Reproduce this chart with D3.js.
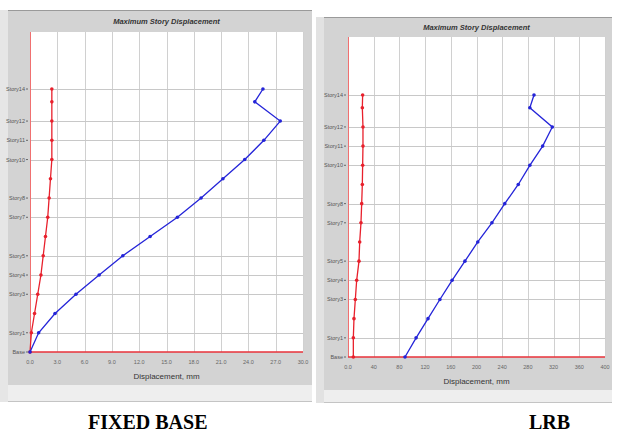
<!DOCTYPE html>
<html>
<head>
<meta charset="utf-8">
<script src="https://cdn.jsdelivr.net/npm/d3@7"></script>
<style>
  body { margin: 0; background: #fff; }
  svg { display: block; }
</style>
</head>
<body>
<div id="chart"></div>
<script>
// story levels (elevation in m, top storey shorter)
var stories = ["Base", "Story1", "Story2", "Story3", "Story4", "Story5", "Story6", "Story7",
               "Story8", "Story9", "Story10", "Story11", "Story12", "Story13", "Story14"];
var elevations = [0, 3, 6, 9, 12, 15, 18, 21, 24, 27, 30, 33, 36, 39, 41];
// only these get a label + gridline in the ETABS plot
var labeledStories = ["Base", "Story1", "Story3", "Story4", "Story5", "Story7", "Story8",
                      "Story10", "Story11", "Story12", "Story14"];

// FIXED BASE, displacement mm
var fixedRed  = [0, 0.15, 0.5, 0.85, 1.2, 1.45, 1.7, 1.95, 2.1, 2.25, 2.4, 2.4, 2.4, 2.4, 2.4];
var fixedBlue = [0, 0.95, 2.75, 5.05, 7.6, 10.2, 13.2, 16.2, 18.8, 21.2, 23.6, 25.7, 27.5, 24.7, 25.6];
var fixedTicks = [0, 3, 6, 9, 12, 15, 18, 21, 24, 27, 30];
var fixedTickLabels = ["0.0", "3.0", "6.0", "9.0", "12.0", "15.0", "18.0", "21.0", "24.0", "27.0", "30.0"];

// LRB, displacement mm
var lrbRed  = [8.3, 8.3, 9.3, 11.4, 13.5, 17.1, 18.2, 20.2, 21.3, 22.3, 22.8, 23.3, 23.3, 22.3, 22.8];
var lrbBlue = [88.7, 106, 124.5, 143, 162, 182, 202, 224, 244, 265, 283, 303, 318, 283, 289.5];
var lrbTicks = [0, 40, 80, 120, 160, 200, 240, 280, 320, 360, 400];
var lrbTickLabels = ["0.0", "40", "80", "120", "160", "200", "240", "280", "320", "360", "400"];

var W = 617, H = 437;

var svg = d3.select("#chart").append("svg")
    .attr("width", W)
    .attr("height", H);

/**
 *   panel()    one ETABS style window with the story displacement plot
 */
function panel(p)
{
    var g = svg.append("g");

    // window body
    g.append("rect")
        .attr("x", p.win[0]).attr("y", p.win[1])
        .attr("width", p.win[2] - p.win[0]).attr("height", p.win[3] - p.win[1])
        .style("fill", "#d3d3d3");
    g.append("line")
        .attr("x1", p.win[0]).attr("x2", p.win[2])
        .attr("y1", p.win[1] + 0.5).attr("y2", p.win[1] + 0.5)
        .style("stroke", "#9a9a9a");

    // status strip under the window
    g.append("rect")
        .attr("x", p.win[0]).attr("y", p.win[3])
        .attr("width", p.win[2] - p.win[0]).attr("height", p.statusH)
        .style("fill", "#eeeeee");
    g.append("line")
        .attr("x1", p.win[0]).attr("x2", p.win[2])
        .attr("y1", p.win[3] + p.statusH - 0.5).attr("y2", p.win[3] + p.statusH - 0.5)
        .style("stroke", "#c4c4c4");

    var x = d3.scaleLinear()
        .domain([p.ticks[0], p.ticks[p.ticks.length - 1]])
        .range([p.plot[0], p.plot[2]]);
    var y = d3.scaleLinear()
        .domain([0, 41])
        .range([p.base, p.top]);

    // white plot area
    g.append("rect")
        .attr("x", p.plot[0]).attr("y", p.plot[1])
        .attr("width", p.plot[2] - p.plot[0]).attr("height", p.base - p.plot[1])
        .style("fill", "#fff");

    // vertical grid
    g.selectAll(".vgrid")
        .data(p.ticks.slice(1))
      .enter().append("line")
        .attr("class", "vgrid")
        .attr("x1", function(d) { return Math.round(x(d)) + 0.5; })
        .attr("x2", function(d) { return Math.round(x(d)) + 0.5; })
        .attr("y1", p.plot[1]).attr("y2", p.base)
        .style("stroke", "#d0d0d0");

    // horizontal grid at labelled stories
    var labeled = stories.map(function(s, i) { return { name: s, elev: elevations[i] }; })
        .filter(function(d) { return labeledStories.indexOf(d.name) >= 0; });

    g.selectAll(".hgrid")
        .data(labeled.filter(function(d) { return d.elev > 0; }))
      .enter().append("line")
        .attr("class", "hgrid")
        .attr("x1", p.plot[0]).attr("x2", p.plot[2])
        .attr("y1", function(d) { return Math.round(y(d.elev)) + 0.5; })
        .attr("y2", function(d) { return Math.round(y(d.elev)) + 0.5; })
        .style("stroke", "#c8c8c8");

    // red axis lines
    g.append("line")
        .attr("x1", p.plot[0] + 0.5).attr("x2", p.plot[0] + 0.5)
        .attr("y1", p.plot[1]).attr("y2", p.base)
        .style("stroke", "#f07070");
    g.append("line")
        .attr("x1", p.plot[0]).attr("x2", p.plot[2])
        .attr("y1", p.base).attr("y2", p.base)
        .style("stroke", "#e8323a").style("stroke-width", 1.5);

    // story labels
    g.selectAll(".slab")
        .data(labeled)
      .enter().append("text")
        .attr("class", "slab")
        .attr("x", p.plot[0] - 5)
        .attr("y", function(d) { return y(d.elev) + 2; })
        .attr("text-anchor", "end")
        .style("font-family", "Liberation Sans Narrow, Arial Narrow, sans-serif")
        .style("font-size", "5.5px")
        .style("fill", "#555")
        .text(function(d) { return d.name; });
    g.selectAll(".stick")
        .data(labeled)
      .enter().append("line")
        .attr("class", "stick")
        .attr("x1", p.plot[0] - 4).attr("x2", p.plot[0] - 2)
        .attr("y1", function(d) { return y(d.elev); })
        .attr("y2", function(d) { return y(d.elev); })
        .style("stroke", "#666");

    // x tick labels
    g.selectAll(".xlab")
        .data(p.ticks)
      .enter().append("text")
        .attr("class", "xlab")
        .attr("x", function(d) { return x(d); })
        .attr("y", p.base + 12)
        .attr("text-anchor", "middle")
        .style("font-family", "Liberation Sans Narrow, Arial Narrow, sans-serif")
        .style("font-size", "5.5px")
        .style("fill", "#666")
        .text(function(d, i) { return p.tickLabels[i]; });

    // titles
    g.append("text")
        .attr("x", (p.plot[0] + p.plot[2]) / 2)
        .attr("y", p.titleY)
        .attr("text-anchor", "middle")
        .style("font-family", "Liberation Sans Narrow, Arial Narrow, sans-serif")
        .style("font-size", "7.5px")
        .style("font-style", "italic")
        .style("font-weight", "bold")
        .style("fill", "#333")
        .text("Maximum Story Displacement");
    g.append("text")
        .attr("x", (p.plot[0] + p.plot[2]) / 2)
        .attr("y", p.xTitleY)
        .attr("text-anchor", "middle")
        .style("font-family", "Liberation Sans Narrow, Arial Narrow, sans-serif")
        .style("font-size", "8px")
        .style("fill", "#333")
        .text("Displacement, mm");

    var line = d3.line()
        .x(function(d) { return x(d.v); })
        .y(function(d) { return y(d.e); });

    var series = [
        { color: "#e8202c", values: p.red },
        { color: "#2424d8", values: p.blue }
    ];

    series.forEach(function(s) {
        var pts = s.values.map(function(v, i) { return { v: v, e: elevations[i] }; });
        g.append("path")
            .datum(pts)
            .attr("d", line)
            .style("fill", "none")
            .style("stroke", s.color)
            .style("stroke-width", 1.3);
        g.selectAll(null)
            .data(pts)
          .enter().append("circle")
            .attr("cx", function(d) { return x(d.v); })
            .attr("cy", function(d) { return y(d.e); })
            .attr("r", 1.8)
            .style("fill", s.color);
    });
}

// left edge strip of the screenshot
svg.append("rect")
    .attr("x", 0).attr("y", 10).attr("width", 8).attr("height", 392)
    .style("fill", "#e6e6e6");

panel({
    win: [8, 10, 312, 385], statusH: 17,
    plot: [30, 32, 303], base: 352, top: 89,
    titleY: 24, xTitleY: 379,
    ticks: fixedTicks, tickLabels: fixedTickLabels,
    red: fixedRed, blue: fixedBlue
});

// right screenshot frame edge
svg.append("rect")
    .attr("x", 316).attr("y", 17).attr("width", 8).attr("height", 386)
    .style("fill", "#e2e2e2");

panel({
    win: [324, 17, 612, 390], statusH: 13,
    plot: [348, 37, 605], base: 357, top: 95,
    titleY: 30, xTitleY: 384,
    ticks: lrbTicks, tickLabels: lrbTickLabels,
    red: lrbRed, blue: lrbBlue
});

// captions
svg.append("text")
    .attr("x", 88).attr("y", 429)
    .style("font-family", "Liberation Serif, Times New Roman, serif")
    .style("font-weight", "bold")
    .style("font-size", "20px")
    .style("fill", "#000")
    .text("FIXED BASE");
svg.append("text")
    .attr("x", 529).attr("y", 429)
    .style("font-family", "Liberation Serif, Times New Roman, serif")
    .style("font-weight", "bold")
    .style("font-size", "20px")
    .style("fill", "#000")
    .text("LRB");
</script>
</body>
</html>
